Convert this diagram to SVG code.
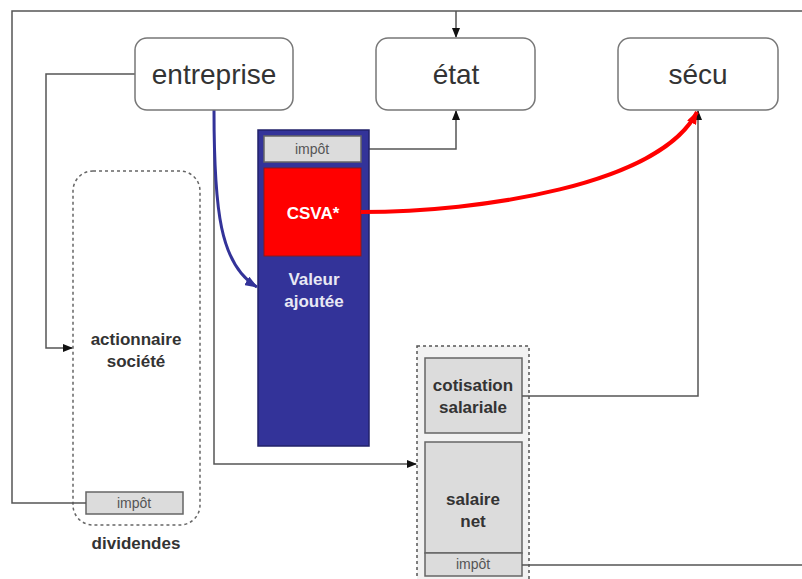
<svg xmlns="http://www.w3.org/2000/svg" width="802" height="579" viewBox="0 0 802 579">
<defs>
<style>
.node{fill:#fff;stroke:#777;stroke-width:1.5}
.big{font-family:"Liberation Sans",Arial,sans-serif;font-size:28px;fill:#333;text-anchor:middle}
.lbl{font-family:"Liberation Sans",Arial,sans-serif;font-size:17px;font-weight:bold;fill:#333;text-anchor:middle}
.wlbl{font-family:"Liberation Sans",Arial,sans-serif;font-size:17px;font-weight:bold;fill:#e8e8f4;text-anchor:middle}
.small{font-family:"Liberation Sans",Arial,sans-serif;font-size:14px;fill:#555;text-anchor:middle}
.gbox{fill:#dcdcdc;stroke:#666;stroke-width:1.5}
.conn{fill:none;stroke:#555;stroke-width:1.5}
.dash{fill:none;stroke:#666;stroke-width:1.5;stroke-dasharray:3,3}
</style>
<marker id="ah" markerWidth="10" markerHeight="8" refX="9" refY="4" orient="auto" markerUnits="userSpaceOnUse"><path d="M0,0 L10,4 L0,8 z" fill="#111"/></marker>
<marker id="ahb" markerWidth="14" markerHeight="10" refX="12" refY="5" orient="auto" markerUnits="userSpaceOnUse"><path d="M0,0 L13,5 L0,10 z" fill="#333399"/></marker>
<marker id="ahr" markerWidth="14" markerHeight="10" refX="12" refY="5" orient="auto" markerUnits="userSpaceOnUse"><path d="M0,0 L13,5 L0,10 z" fill="#ff0000"/></marker>
</defs>
<rect width="802" height="579" fill="#fff"/>

<g id="actionnaire">
<rect x="73" y="171" width="127" height="354" rx="20" class="dash"/>
<text x="136" y="345" class="lbl">actionnaire</text>
<text x="136" y="367" class="lbl">société</text>
<rect x="86" y="492" width="97" height="22" class="gbox"/>
<text x="134" y="508" class="small">impôt</text>
<text x="136" y="549" class="lbl">dividendes</text>
</g>

<g id="salaire">
<rect x="417" y="346" width="112" height="240" fill="#f2f2f2" stroke="#555" stroke-width="1.5" stroke-dasharray="3,3"/>
<rect x="425" y="358" width="97" height="75" class="gbox"/>
<text x="473" y="391" class="lbl">cotisation</text>
<text x="473" y="413" class="lbl">salariale</text>
<rect x="425" y="442" width="97" height="111" class="gbox"/>
<text x="473" y="505" class="lbl">salaire</text>
<text x="473" y="527" class="lbl">net</text>
<rect x="425" y="553" width="97" height="23" class="gbox"/>
<text x="473" y="569" class="small">impôt</text>
</g>

<g id="connectors">
<polyline points="86,503 12,503 12,11 802,11" class="conn"/>
<line x1="456" y1="11" x2="456" y2="37" class="conn" marker-end="url(#ah)"/>
<polyline points="135,74 46,74 46,348 72,348" class="conn" marker-end="url(#ah)"/>
<polyline points="214,110 214,464 416,464" class="conn" marker-end="url(#ah)"/>
<polyline points="361,149 456,149 456,111" class="conn" marker-end="url(#ah)"/>
<polyline points="522,396 698,396 698,111" class="conn" marker-end="url(#ah)"/>
<line x1="522" y1="565" x2="802" y2="565" class="conn"/>
</g>

<g id="valeur">
<rect x="258" y="130" width="111" height="316" fill="#333399" stroke="#22226a" stroke-width="1.5"/>
<rect x="264" y="136" width="97" height="26" class="gbox"/>
<text x="312" y="154" class="small">impôt</text>
<rect x="264" y="168" width="97" height="88" fill="#ff0000" stroke="#8a1a1a" stroke-width="1"/>
<text x="313" y="219" class="wlbl" fill="#fff" style="fill:#fff">CSVA*</text>
<text x="314" y="285" class="wlbl">Valeur</text>
<text x="314" y="307" class="wlbl">ajoutée</text>
</g>

<g id="curves">
<path d="M214,110 C214,210 220,265 257,287" fill="none" stroke="#333399" stroke-width="3" marker-end="url(#ahb)"/>
<path d="M361,212 C480,212 660,185 697,112" fill="none" stroke="#ff0000" stroke-width="4" marker-end="url(#ahr)"/>
</g>

<g id="entreprise">
<rect x="135" y="38" width="158" height="72" rx="12" class="node"/>
<text x="214" y="84" class="big">entreprise</text>
</g>
<g id="etat">
<rect x="376" y="38" width="159" height="72" rx="12" class="node"/>
<text x="456" y="84" class="big">état</text>
</g>
<g id="secu">
<rect x="618" y="38" width="160" height="72" rx="12" class="node"/>
<text x="698" y="84" class="big">sécu</text>
</g>
</svg>
